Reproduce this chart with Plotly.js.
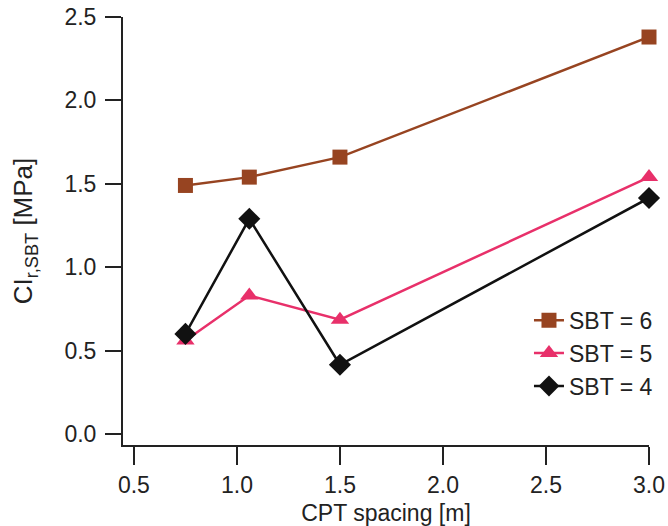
<!DOCTYPE html>
<html>
<head>
<meta charset="utf-8">
<script src="https://cdn.plot.ly/plotly-3.0.1.min.js"></script>
<style>html,body{margin:0;padding:0;background:#fff;}#chart{width:668px;height:526px;}</style>
</head>
<body>
<div id="chart"></div>
<script>
var spacing = [0.75, 1.06, 1.5, 3.0];
var sbt6 = [1.49, 1.54, 1.66, 2.38];
var sbt5 = [0.56, 0.83, 0.685, 1.54];
var sbt4 = [0.60, 1.29, 0.415, 1.415];
var seriesNames = ['SBT = 6', 'SBT = 5', 'SBT = 4'];
var xTicks = [0.5, 1.0, 1.5, 2.0, 2.5, 3.0];
var xTickText = ['0.5', '1.0', '1.5', '2.0', '2.5', '3.0'];
var yTicks = [0.0, 0.5, 1.0, 1.5, 2.0, 2.5];
var yTickText = ['0.0', '0.5', '1.0', '1.5', '2.0', '2.5'];

var font = 'Liberation Sans, Arial, Helvetica, sans-serif';

var traces = [
  {x: spacing, y: sbt6, name: seriesNames[0], mode: 'lines+markers', cliponaxis: false,
   line: {color: '#974421', width: 2.5},
   marker: {symbol: 'square', size: 15, color: '#974421'}},
  {x: spacing, y: sbt5, name: seriesNames[1], mode: 'lines+markers', cliponaxis: false,
   line: {color: '#e8306a', width: 2.5},
   marker: {symbol: 'triangle-up', size: 16, color: '#e8306a'}},
  {x: spacing, y: sbt4, name: seriesNames[2], mode: 'lines+markers', cliponaxis: false,
   line: {color: '#111111', width: 2.5},
   marker: {symbol: 'diamond', size: 17, color: '#111111'}}
];

var layout = {
  width: 668, height: 526,
  margin: {l: 123, r: 19, t: 17, b: 81, autoexpand: false},
  paper_bgcolor: '#ffffff', plot_bgcolor: '#ffffff',
  font: {family: font, size: 23, color: '#222222'},
  showlegend: true,
  legend: {xref: 'container', yref: 'container', x: 0.985, xanchor: 'right', y: 0.432, yanchor: 'top',
           bgcolor: '#ffffff', borderwidth: 0, font: {size: 23, color: '#222222'},
           tracegroupgap: 0},
  xaxis: {range: [0.447, 3.0], tickvals: xTicks, ticktext: xTickText, automargin: false,
          showgrid: false, zeroline: false, showline: true, linecolor: '#222222', linewidth: 2,
          ticks: 'outside', ticklen: 18, tickwidth: 2, tickcolor: '#222222', ticklabelstandoff: 0,
          title: {text: 'CPT spacing [m]', font: {size: 23}, standoff: 18}},
  yaxis: {range: [-0.066, 2.5], tickvals: yTicks, ticktext: yTickText, automargin: false,
          showgrid: false, zeroline: false, showline: true, linecolor: '#222222', linewidth: 2,
          ticks: 'outside', ticklen: 16, tickwidth: 2, tickcolor: '#222222', ticklabelstandoff: 4,
          title: {text: 'CI<sub>r,SBT</sub> [MPa]', font: {size: 26}, standoff: 24}}
};

Plotly.newPlot('chart', traces, layout, {displayModeBar: false, staticPlot: true});
</script>
</body>
</html>
